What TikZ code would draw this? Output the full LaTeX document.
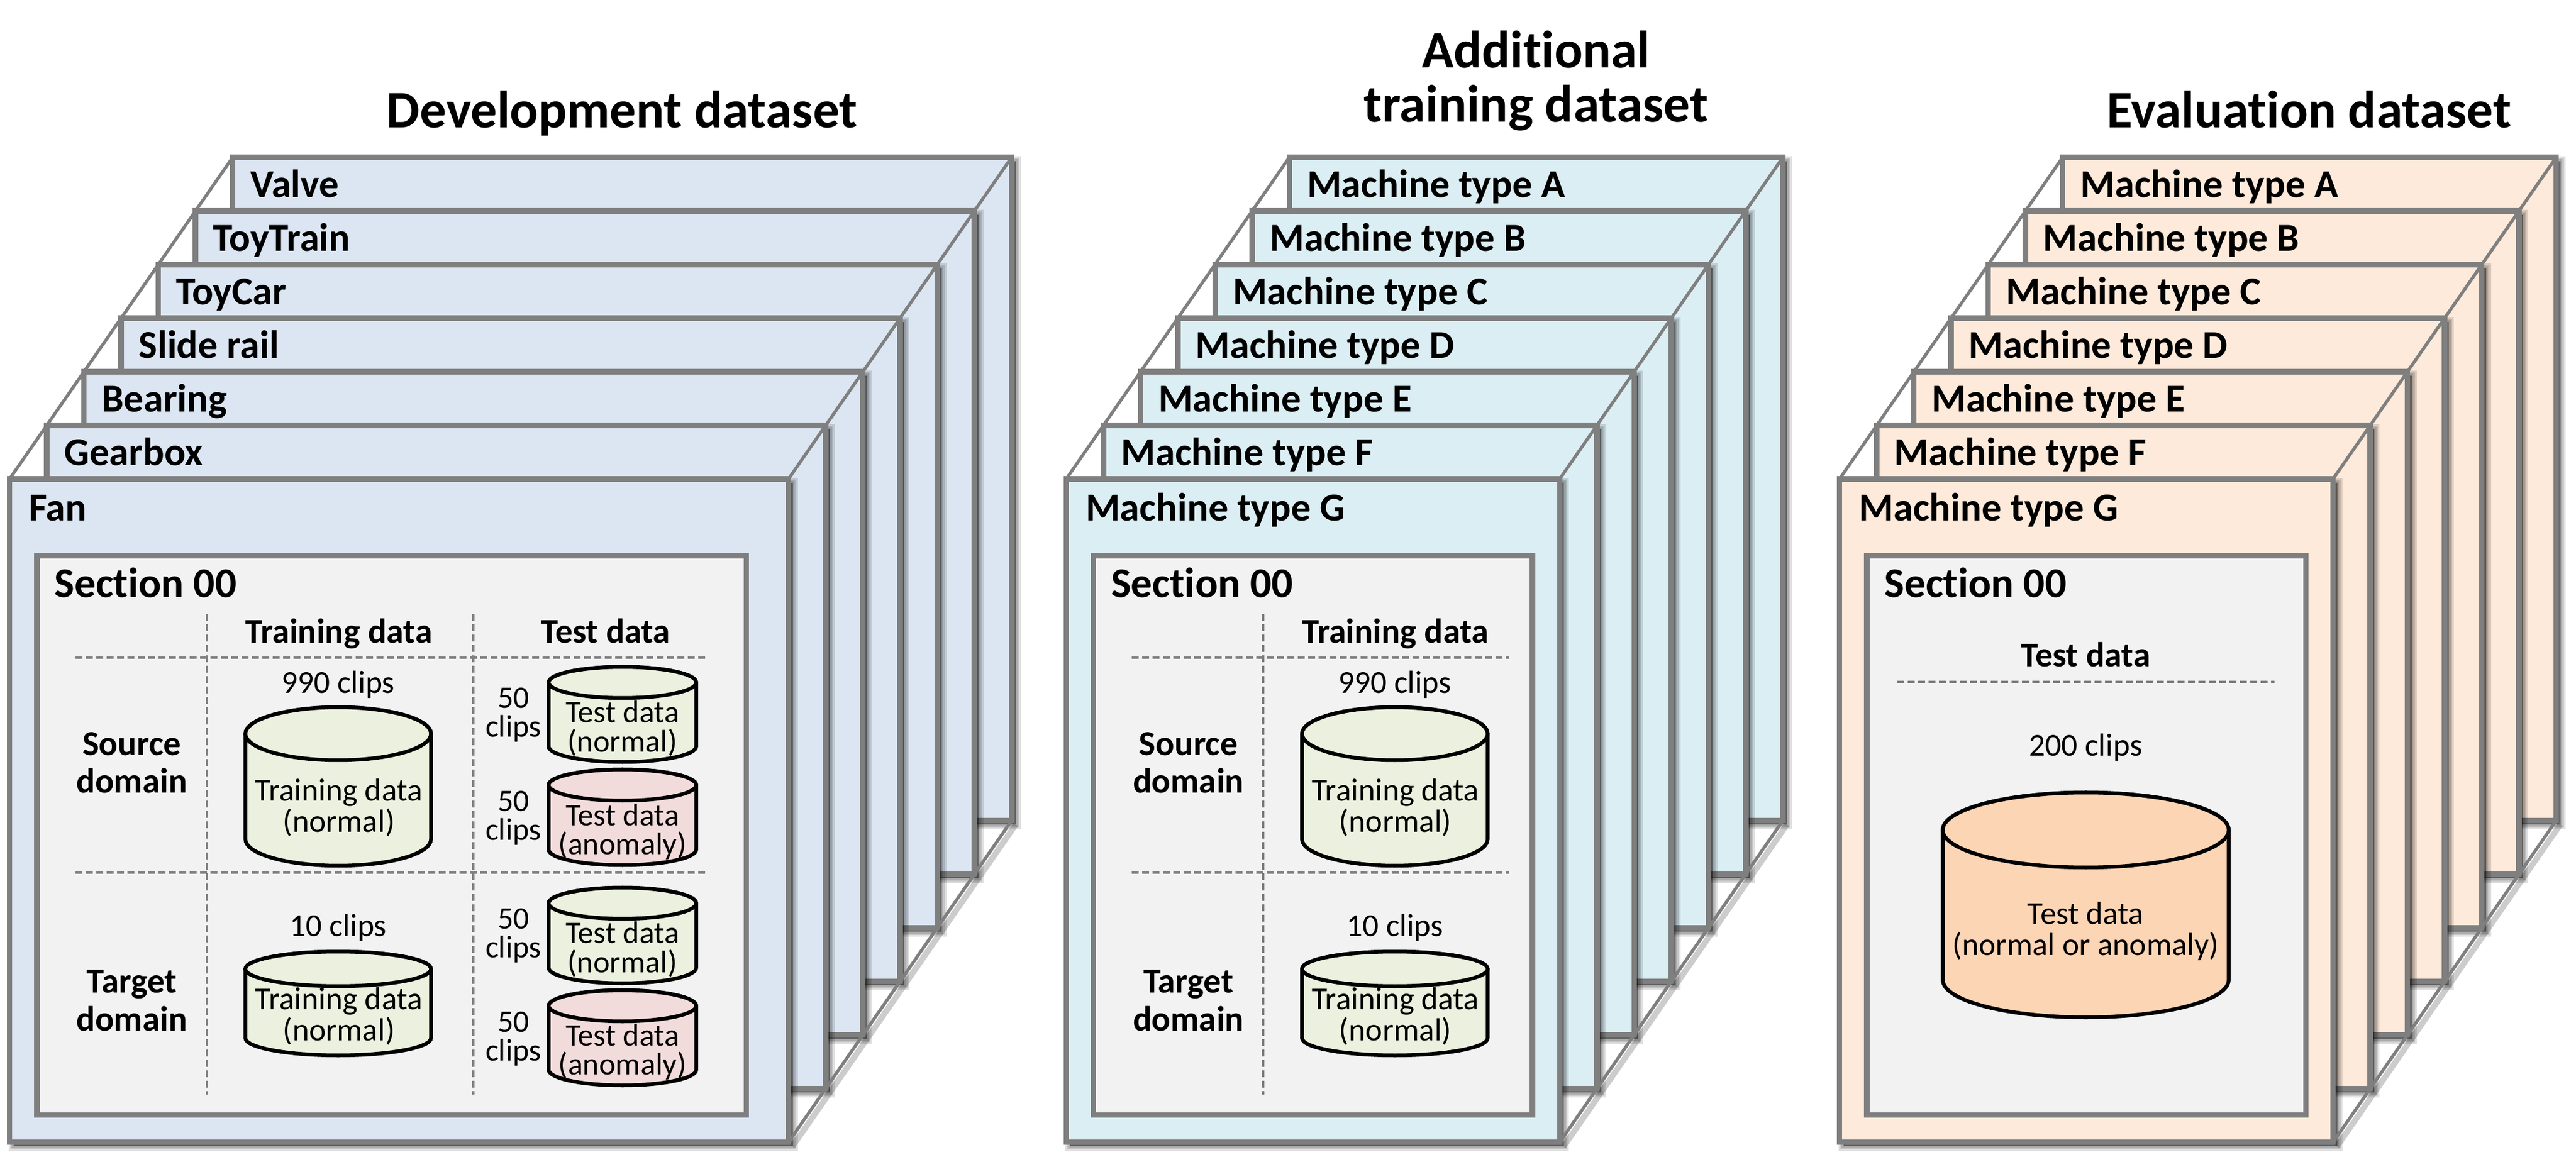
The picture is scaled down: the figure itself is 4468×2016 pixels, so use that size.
\documentclass[tikz,border=0pt]{standalone}
\usepackage{xcolor}
\usepackage{fontspec}
\setmainfont{Carlito}[Ligatures=NoCommon]
\usepackage{tikz}
\usetikzlibrary{calc}

\definecolor{framegray}{HTML}{7F7F7F}
\definecolor{devblue}{HTML}{DCE6F2}
\definecolor{addcyan}{HTML}{DBEEF4}
\definecolor{evalpeach}{HTML}{FDEADA}
\definecolor{sectiongray}{HTML}{F2F2F2}
\definecolor{drumgreen}{HTML}{EBF1DE}
\definecolor{drumpink}{HTML}{F2DCDB}
\definecolor{drumorange}{HTML}{FCD5B5}

\tikzset{
  sheet/.style={draw=framegray, line width=0.095cm, anchor=north west, inner sep=0pt, outer sep=0pt, minimum height=11.5cm},
  sectionbox/.style={draw=framegray, line width=0.095cm, fill=sectiongray, anchor=north west, inner sep=0pt, outer sep=0pt, minimum height=9.7cm},
  sidelink/.style={draw=framegray, line width=0.055cm},
  griddash/.style={draw=framegray, line width=0.04cm, dash pattern=on 0.12cm off 0.06cm},
  drumline/.style={draw=black, line width=0.065cm},
  titletext/.style={font=\fontsize{26}{27}\selectfont\bfseries, align=center, inner sep=0pt},
  sheettext/.style={font=\fontsize{19.5}{20}\selectfont\bfseries, anchor=base west, inner sep=0pt},
  sectiontext/.style={font=\fontsize{20.9}{22}\selectfont\bfseries, anchor=base west, inner sep=0pt},
  headtext/.style={font=\fontsize{17.1}{18.6}\selectfont\bfseries, anchor=base, inner sep=0pt},
  domaintext/.style={font=\fontsize{17.3}{18.6}\selectfont\bfseries, align=center, inner sep=0pt},
  clipstext/.style={font=\fontsize{15.75}{17}\selectfont, anchor=base, inner sep=0pt},
  drumtext/.style={font=\fontsize{15.75}{15.4}\selectfont, align=center, inner sep=0pt},
  smalltext/.style={font=\fontsize{15.4}{14.3}\selectfont, align=center, inner sep=0pt},
}

% left edge, name, sheet width, fill, then the seven labels from back to front
\newcommand{\sheetstack}[5]{
  \foreach \sheetlabel [count=\i from 0] in {#5} {
    \pgfmathsetmacro{\px}{#1+387-64.5*\i}
    \pgfmathsetmacro{\py}{273+93*\i}
    \pgfmathsetmacro{\lx}{\i==6 ? 33 : 30}
    \pgfmathsetmacro{\ly}{\i==6 ? 73 : 70}
    \foreach \w in {18,12,7,2}
      \draw[black, fill=black, opacity=0.12, line width=\w*0.01cm] (\px+7,\py+7) rectangle (\px+#3+7,\py+1150+7);
    \node[sheet, fill=#4, minimum width=#3*0.01cm] (#2\i) at (\px,\py) {};
    \node[sheettext] (#2label\i) at (\px+\lx,\py+\ly) {\sheetlabel};
  }
  \draw[black, opacity=0.2, line width=0.1cm] ($(#26.south east)+(7,7)$) -- ($(#20.south east)+(7,7)$);
  \draw[sidelink] (#26.north west) -- (#20.north west);
  \draw[sidelink] (#26.north east) -- (#20.north east);
  \draw[sidelink] (#26.south east) -- (#20.south east);
}

% centre x, y of top ellipse, y of bottom ellipse, x radius, y radius, fill
\newcommand{\drum}[6]{
  \draw[drumline, fill=#6] (#1-#4,#2) -- (#1-#4,#3)
    arc[start angle=180, end angle=0, x radius=#4, y radius=#5]
    -- (#1+#4,#2)
    arc[start angle=0, end angle=-180, x radius=#4, y radius=#5] -- cycle;
  \draw[drumline, fill=#6] (#1,#2) ellipse[x radius=#4, y radius=#5];
}

% training column, shared by the first two stacks
\newcommand{\trainingcolumn}[1]{
  \node[headtext] (#1trainhead) at (571,1116) {Training data};
  \node[domaintext] (#1source) at (212,1323) {Source\\domain};
  \node[domaintext] (#1target) at (212,1736) {Target\\domain};
  \node[clipstext] (#1clipsa) at (570,1203) {990 clips};
  \drum{570}{1273}{1456}{161}{46}{drumgreen}
  \node[drumtext] (#1traina) at (571,1401) {Training data\\(normal)};
  \node[clipstext] (#1clipsb) at (570,1624) {10 clips};
  \drum{570}{1681}{1801}{161}{30}{drumgreen}
  \node[drumtext] (#1trainb) at (571,1763) {Training data\\(normal)};
}

\begin{document}
\begin{tikzpicture}[x=0.01cm, y=-0.01cm]
\useasboundingbox (0,0) rectangle (4468,2016);

\node[titletext, anchor=base] (devtitle) at (1079,222) {Development dataset};
\node[titletext, font=\fontsize{26}{26.6}\selectfont\bfseries] (addtitle) at (2664,140) {Additional\\training dataset};
\node[titletext, anchor=base] (evaltitle) at (4005,222) {Evaluation dataset};

\sheetstack{16.6}{dev}{1351}{devblue}{Valve,ToyTrain,ToyCar,Slide rail,Bearing,Gearbox,Fan}
\sheetstack{1849.3}{add}{856}{addcyan}{Machine type A,Machine type B,Machine type C,Machine type D,Machine type E,Machine type F,Machine type G}
\sheetstack{3190.6}{eval}{856}{evalpeach}{Machine type A,Machine type B,Machine type C,Machine type D,Machine type E,Machine type F,Machine type G}

% development
\begin{scope}[shift={(16.6,0)}]
\node[sectionbox, minimum width=12.3cm] (devsection) at (47.4,964) {};
\node[sectiontext] (devsectionlabel) at (77,1037) {Section 00};
\draw[griddash] (342,1065) -- (342,1899);
\draw[griddash] (804,1065) -- (804,1899);
\draw[griddash] (114,1141) -- (1210,1141);
\draw[griddash] (114,1514) -- (1210,1514);
\trainingcolumn{dev}
\node[headtext] (devtesthead) at (1034,1116) {Test data};
\foreach \top/\bot/\col/\word/\clipy/\texty/\tag in {
  1184/1295/drumgreen/normal/1240/1264/a,
  1362/1474/drumpink/anomaly/1419/1443/b,
  1567/1679/drumgreen/normal/1623/1647/c,
  1745/1856/drumpink/anomaly/1802/1825/d} {
  \node[smalltext] (devclips\tag) at (874,\clipy) {50\\clips};
  \drum{1063}{\top}{\bot}{128}{27}{\col}
  \node[smalltext] (devtest\tag) at (1063,\texty) {Test data\\(\word)};
}
\end{scope}

% additional training
\begin{scope}[shift={(1849.3,0)}]
\node[sectionbox, minimum width=7.61cm] (addsection) at (47.4,964) {};
\node[sectiontext] (addsectionlabel) at (77,1037) {Section 00};
\draw[griddash] (342,1065) -- (342,1899);
\draw[griddash] (114,1141) -- (768,1141);
\draw[griddash] (114,1514) -- (768,1514);
\trainingcolumn{add}
\end{scope}

% evaluation
\begin{scope}[shift={(3190.6,0)}]
\node[sectionbox, minimum width=7.61cm] (evalsection) at (47.4,964) {};
\node[sectiontext] (evalsectionlabel) at (77,1037) {Section 00};
\node[headtext] (evaltesthead) at (427,1157) {Test data};
\draw[griddash] (100,1183) -- (754,1183);
\node[clipstext] (evalclips) at (427,1312) {200 clips};
\drum{427}{1440}{1700}{248}{65}{drumorange}
\node[drumtext] (evaltest) at (427,1616) {Test data\\(normal or anomaly)};
\end{scope}
\end{tikzpicture}
\end{document}
